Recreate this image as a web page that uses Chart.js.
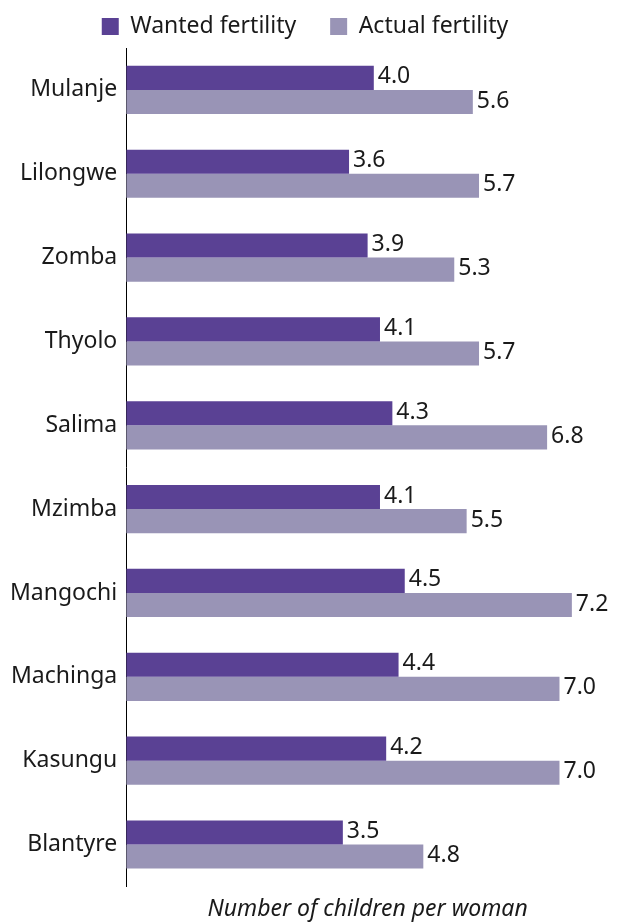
<!DOCTYPE html>
<html>
<head>
<meta charset="utf-8">
<script src="https://cdn.jsdelivr.net/npm/chart.js@4"></script>
<style>
  html, body { margin: 0; padding: 0; background: #fff; }
  #wrap { width: 619px; height: 923px; }
</style>
</head>
<body>
<div id="wrap"><canvas id="fertilityChart" width="619" height="923"></canvas></div>
<script>
// --- DATA ---
const districts = ['Mulanje', 'Lilongwe', 'Zomba', 'Thyolo', 'Salima', 'Mzimba', 'Mangochi', 'Machinga', 'Kasungu', 'Blantyre'];
const wantedFertility = [4.0, 3.6, 3.9, 4.1, 4.3, 4.1, 4.5, 4.4, 4.2, 3.5];
const actualFertility = [5.6, 5.7, 5.3, 5.7, 6.8, 5.5, 7.2, 7.0, 7.0, 4.8];

const FONT = '"Noto Sans", sans-serif';
const TEXT = '#1a1a1a';

// value labels at the end of every bar
const barValueLabels = {
    id: 'barValueLabels',
    afterDatasetsDraw(chart) {
        const ctx = chart.ctx;
        ctx.save();
        ctx.font = `23px ${FONT}`;
        ctx.fillStyle = TEXT;
        ctx.textAlign = 'left';
        ctx.textBaseline = 'middle';
        chart.data.datasets.forEach((ds, i) => {
            chart.getDatasetMeta(i).data.forEach((bar, j) => {
                ctx.fillText(ds.data[j].toFixed(1), bar.x + 4, bar.y - 1);
            });
        });
        ctx.restore();
    }
};

new Chart(document.getElementById('fertilityChart'), {
    type: 'bar',
    data: {
        labels: districts,
        datasets: [
            { label: 'Wanted fertility', data: wantedFertility, backgroundColor: '#5a4194' },
            { label: 'Actual fertility', data: actualFertility, backgroundColor: '#9994b6' }
        ]
    },
    options: {
        indexAxis: 'y',
        responsive: false,
        animation: false,
        layout: { padding: { left: 1, right: 10, top: 5, bottom: 0 } },
        datasets: {
            bar: { categoryPercentage: 0.575, barPercentage: 1.0 }
        },
        scales: {
            x: {
                min: 0,
                max: 7.8,
                grid: { display: false, drawTicks: false },
                border: { display: false },
                ticks: { display: false },
                title: {
                    display: true,
                    text: 'Number of children per woman',
                    color: TEXT,
                    font: { family: FONT, size: 23, style: 'italic' },
                    padding: { top: 9, bottom: 0 }
                }
            },
            y: {
                grid: { display: false, drawTicks: false },
                border: { display: true, color: '#000', width: 1 },
                ticks: { color: TEXT, font: { family: FONT, size: 23 }, padding: 9 }
            }
        },
        plugins: {
            legend: {
                position: 'top',
                labels: {
                    color: TEXT,
                    font: { family: FONT, size: 23 },
                    boxWidth: 17,
                    boxHeight: 17,
                    padding: 10,
                    // a little extra room after the first item, as in the original
                    generateLabels(chart) {
                        const items = Chart.defaults.plugins.legend.labels.generateLabels(chart);
                        items[0].text += '    ';
                        return items;
                    }
                }
            },
            tooltip: { enabled: false }
        }
    },
    plugins: [barValueLabels]
});
</script>
</body>
</html>
